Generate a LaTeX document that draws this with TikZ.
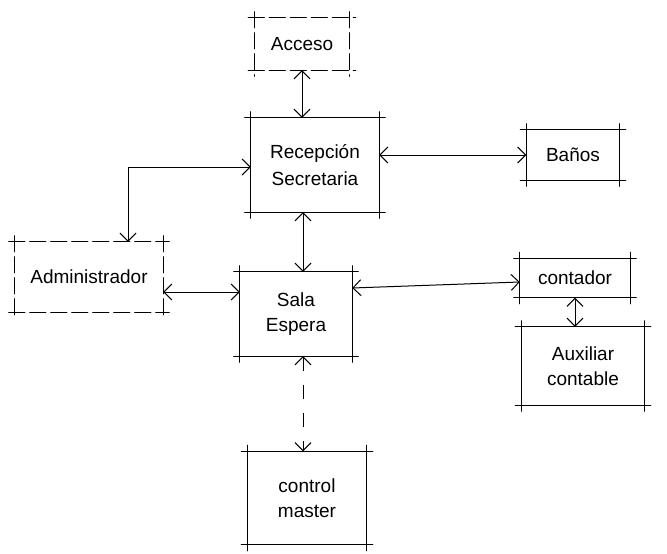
\documentclass[tikz,border=0pt]{standalone}
\usepackage{fontspec}
\setmainfont{Liberation Sans}
\usetikzlibrary{arrows.meta}
\tikzset{
  box/.style={draw=none, align=center, inner sep=0pt, font=\fontsize{19}{23}\selectfont},
  arr/.style={line width=1pt, {Straight Barb[length=8pt,width=16pt]}-{Straight Barb[length=8pt,width=16pt]}},
  side/.style={line width=1.2pt, line cap=round},
  dside/.style={side, dash pattern=on 16pt off 5pt}
}
\newcommand{\handbox}[2][side]{%
  \draw[#1] ([xshift=-6pt]#2.north west) -- ([xshift=6pt]#2.north east);
  \draw[#1] ([xshift=-6pt]#2.south west) -- ([xshift=6pt]#2.south east);
  \draw[#1] ([yshift=6pt]#2.north west) -- ([yshift=-6pt]#2.south west);
  \draw[#1] ([yshift=6pt]#2.north east) -- ([yshift=-6pt]#2.south east);
}
\begin{document}
\begin{tikzpicture}[x=1pt,y=-1pt]
\useasboundingbox (0,0) rectangle (667,554);
\node[box, minimum width=95pt, minimum height=52pt] (acc) at (302,44) {Acceso};
\node[box, minimum width=128pt, minimum height=94pt] (rec) at (315,165) {Recepción\\[4pt]Secretaria};
\node[box, minimum width=93pt, minimum height=50pt] (ban) at (573,155) {Baños};
\node[box, minimum width=148pt, minimum height=70pt] (adm) at (89,277) {Administrador};
\node[box, minimum width=112pt, minimum height=84pt] (sal) at (296,314) {Sala\\[2pt]Espera};
\node[box, minimum width=110pt, minimum height=39pt] (con) at (575,278) {contador};
\node[box, minimum width=123pt, minimum height=78pt] (aux) at (583,366) {Auxiliar\\[2pt]contable};
\node[box, minimum width=119pt, minimum height=93pt] (ctl) at (307,498) {control\\[2pt]master};
\handbox[dside]{acc}
\handbox{rec}
\handbox{ban}
\handbox[dside]{adm}
\handbox{sal}
\handbox{con}
\handbox{aux}
\handbox{ctl}
\coordinate (elb) at (128,167);
\coordinate (sx) at (303,0);
\draw[arr] (acc.south) -- (acc.south |- rec.north);
\draw[arr] (rec.east |- ban.west) -- (ban.west);
\draw[arr] (rec.west |- elb) -- (elb) -- (elb |- adm.north);
\draw[arr] (sx |- rec.south) -- (sx |- sal.north);
\draw[arr] ([yshift=-15pt]adm.east) -- ([yshift=-15pt]adm.east -| sal.west);
\draw[arr] ([yshift=26pt]sal.east) -- ([yshift=-4pt]con.west);
\draw[arr] (con.south) -- (con.south |- aux.north);
\draw[arr, dash pattern=on 14pt off 14pt] (sx |- sal.south) -- (sx |- ctl.north);
\end{tikzpicture}
\end{document}
